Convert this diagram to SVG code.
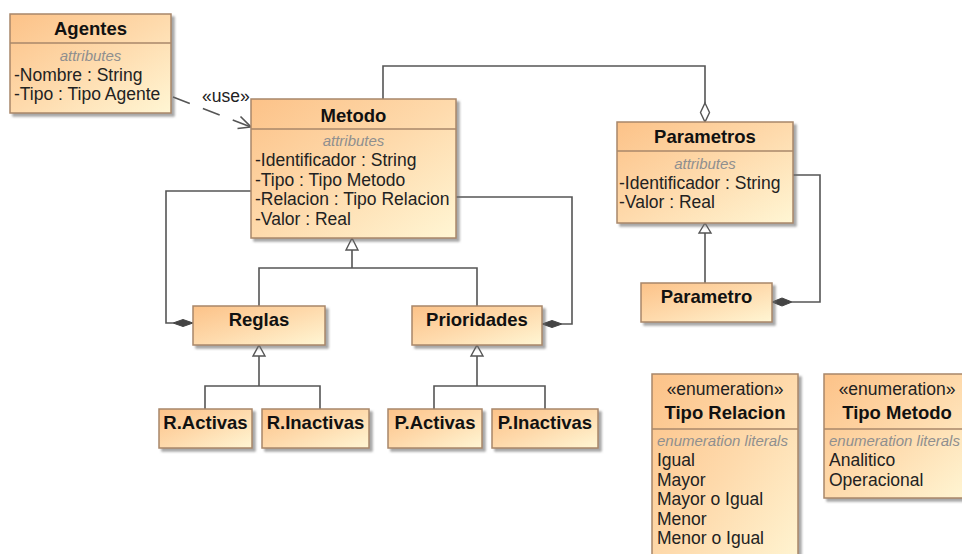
<svg xmlns="http://www.w3.org/2000/svg" width="962" height="554" viewBox="0 0 962 554">
  <defs>
    <linearGradient id="boxFill" x1="0" y1="0" x2="1" y2="1">
      <stop offset="0" stop-color="#fcc288"/>
      <stop offset="0.5" stop-color="#fedaac"/>
      <stop offset="1" stop-color="#fff6d4"/>
    </linearGradient>
    <filter id="shadow" x="-10%" y="-10%" width="130%" height="140%">
      <feDropShadow dx="3" dy="3" stdDeviation="1.2" flood-color="#6c6c6c" flood-opacity="0.6"/>
    </filter>
    <style>
      .box { fill: url(#boxFill); stroke: #a8876a; stroke-width: 1.5; filter: url(#shadow); }
      .sep { stroke: #a8876a; stroke-width: 1.5; }
      text { font-family: "Liberation Sans", Arial, sans-serif; }
      .title { font-size: 18.5px; font-weight: bold; fill: #111; text-anchor: middle; }
      .stereo { font-size: 17.5px; fill: #222; text-anchor: middle; }
      .attr { font-size: 17.5px; fill: #222; }
      .cmp { font-size: 15px; font-style: italic; fill: #8f8f8f; }
      .mid { text-anchor: middle; }
      .line { stroke: #555; stroke-width: 1.6; fill: none; }
      .hollow { fill: #fff; stroke: #555; stroke-width: 1.4; }
      .solid { fill: #444; stroke: #444; stroke-width: 1; }
      .dep { stroke: #555; stroke-width: 1.6; fill: none; stroke-dasharray: 18 14; }
      .label { font-size: 17.5px; fill: #222; }
    </style>
  </defs>

  <rect width="962" height="554" fill="#fff"/>

  <!-- connectors -->
  <g id="connectors">
    <!-- Agentes uses Metodo -->
    <line class="dep" x1="173" y1="97" x2="251" y2="127"/>
    <polyline class="line" points="240.5,116.5 251,127 237.5,128.5"/>
    <text class="label" x="202" y="102">«use»</text>

    <!-- Metodo aggregates Parametros -->
    <path class="line" d="M383,99 V66 H705 V103"/>
    <polygon class="hollow" points="705,103 709.5,112.5 705,122 700.5,112.5"/>

    <!-- Parametro specialises Parametros -->
    <path class="line" d="M705,283 V233"/>
    <polygon class="hollow" points="705,223 711,233 699,233"/>

    <!-- Parametros composes Parametro -->
    <path class="line" d="M793,175 H820 V302 H792"/>
    <polygon class="solid" points="772,302 782,298 792,302 782,306"/>

    <!-- Reglas and Prioridades specialise Metodo -->
    <path class="line" d="M259,306 V268 H477 V306 M352,268 V250"/>
    <polygon class="hollow" points="352,238 358,250 346,250"/>

    <!-- Metodo composes Reglas -->
    <path class="line" d="M251,191 H166 V323 H173"/>
    <polygon class="solid" points="193,323 183,319.5 173,323 183,326.5"/>

    <!-- Metodo composes Prioridades -->
    <path class="line" d="M456,197 H572 V324 H562"/>
    <polygon class="solid" points="542,324 552,320.5 562,324 552,327.5"/>

    <!-- R.Activas and R.Inactivas specialise Reglas -->
    <path class="line" d="M205,409 V386 H320 V409 M259,386 V356"/>
    <polygon class="hollow" points="259,345 265,356 253,356"/>

    <!-- P.Activas and P.Inactivas specialise Prioridades -->
    <path class="line" d="M434,409 V386 H545 V409 M477,386 V356"/>
    <polygon class="hollow" points="477,345 483,356 471,356"/>
  </g>

  <!-- classes -->
  <g id="agentes">
    <rect class="box" x="10" y="14" width="161" height="99"/>
    <line class="sep" x1="10" y1="43" x2="171" y2="43"/>
    <text class="title" x="90.5" y="35">Agentes</text>
    <text class="cmp mid" x="90.5" y="61">attributes</text>
    <text class="attr" x="14" y="81">-Nombre : String</text>
    <text class="attr" x="14" y="100">-Tipo : Tipo Agente</text>
  </g>

  <g id="metodo">
    <rect class="box" x="251" y="99" width="205" height="139"/>
    <line class="sep" x1="251" y1="129" x2="456" y2="129"/>
    <text class="title" x="353.5" y="122">Metodo</text>
    <text class="cmp mid" x="353.5" y="146">attributes</text>
    <text class="attr" x="255" y="166">-Identificador : String</text>
    <text class="attr" x="255" y="185.7">-Tipo : Tipo Metodo</text>
    <text class="attr" x="255" y="205.4">-Relacion : Tipo Relacion</text>
    <text class="attr" x="255" y="225">-Valor : Real</text>
  </g>

  <g id="parametros">
    <rect class="box" x="617" y="122" width="176" height="101"/>
    <line class="sep" x1="617" y1="151" x2="793" y2="151"/>
    <text class="title" x="705" y="143">Parametros</text>
    <text class="cmp mid" x="705" y="169">attributes</text>
    <text class="attr" x="619" y="189">-Identificador : String</text>
    <text class="attr" x="619" y="208">-Valor : Real</text>
  </g>

  <g id="parametro">
    <rect class="box" x="641" y="283" width="131" height="39"/>
    <text class="title" x="706.5" y="303">Parametro</text>
  </g>

  <g id="reglas">
    <rect class="box" x="193" y="306" width="132" height="39"/>
    <text class="title" x="259" y="326">Reglas</text>
  </g>

  <g id="prioridades">
    <rect class="box" x="412" y="306" width="130" height="39"/>
    <text class="title" x="477" y="326">Prioridades</text>
  </g>

  <g id="r-activas">
    <rect class="box" x="159" y="409" width="93" height="39"/>
    <text class="title" x="205.5" y="429">R.Activas</text>
  </g>

  <g id="r-inactivas">
    <rect class="box" x="262" y="409" width="107" height="39"/>
    <text class="title" x="315.5" y="429">R.Inactivas</text>
  </g>

  <g id="p-activas">
    <rect class="box" x="388" y="409" width="94" height="39"/>
    <text class="title" x="435" y="429">P.Activas</text>
  </g>

  <g id="p-inactivas">
    <rect class="box" x="492" y="409" width="106" height="39"/>
    <text class="title" x="545" y="429">P.Inactivas</text>
  </g>

  <!-- enumerations -->
  <g id="tipo-relacion">
    <rect class="box" x="652" y="374" width="146" height="200"/>
    <line class="sep" x1="652" y1="429" x2="798" y2="429"/>
    <text class="stereo" x="725" y="395">«enumeration»</text>
    <text class="title" x="725" y="419">Tipo Relacion</text>
    <text class="cmp" x="657" y="446">enumeration literals</text>
    <text class="attr" x="657" y="466">Igual</text>
    <text class="attr" x="657" y="485.5">Mayor</text>
    <text class="attr" x="657" y="505">Mayor o Igual</text>
    <text class="attr" x="657" y="524.5">Menor</text>
    <text class="attr" x="657" y="544">Menor o Igual</text>
  </g>

  <g id="tipo-metodo">
    <rect class="box" x="824" y="374" width="146" height="124"/>
    <line class="sep" x1="824" y1="429" x2="970" y2="429"/>
    <text class="stereo" x="897" y="395">«enumeration»</text>
    <text class="title" x="897" y="419">Tipo Metodo</text>
    <text class="cmp" x="829" y="446">enumeration literals</text>
    <text class="attr" x="829" y="466">Analitico</text>
    <text class="attr" x="829" y="485.5">Operacional</text>
  </g>
</svg>
